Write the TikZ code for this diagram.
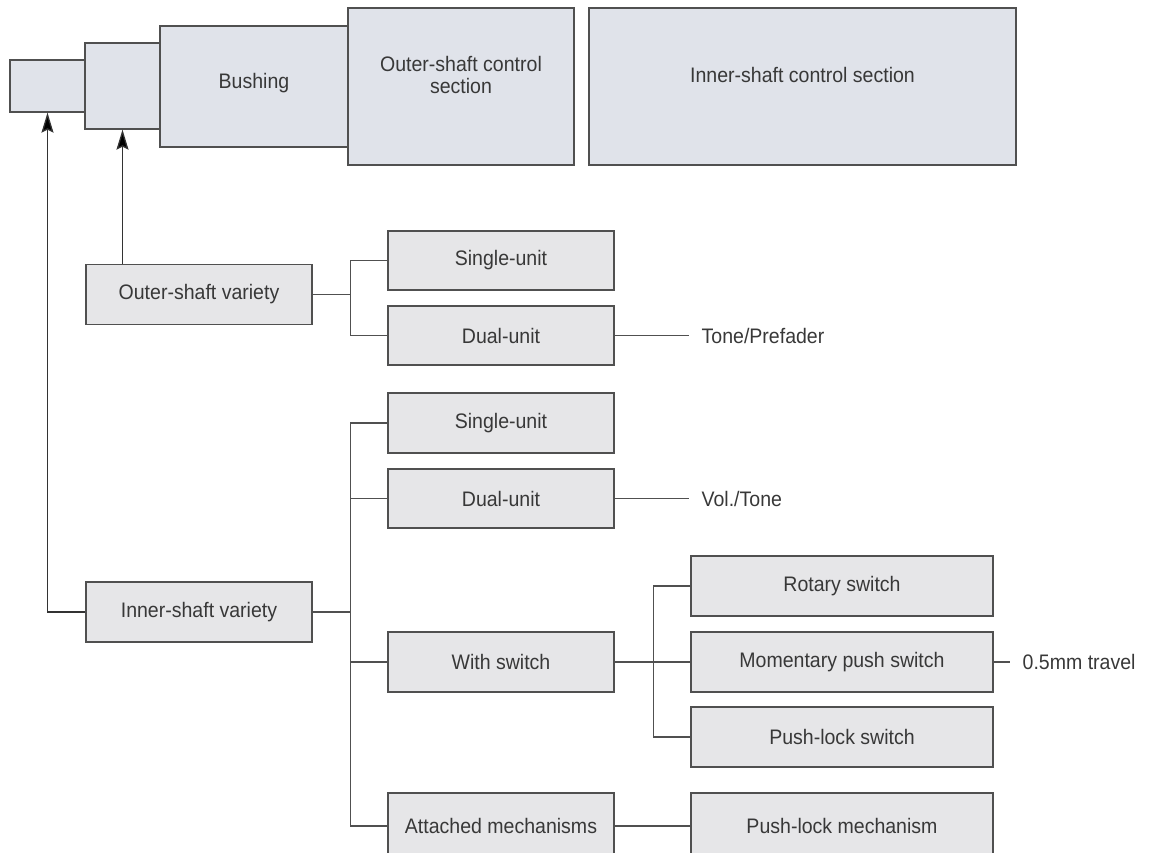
\documentclass[tikz,border=0pt]{standalone}
\usepackage{fontspec}
\setmainfont{Liberation Sans}[FakeStretch=0.93]
\usetikzlibrary{arrows.meta}

\definecolor{boxline}{HTML}{505050}
\definecolor{topfill}{HTML}{E0E3EA}
\definecolor{lowfill}{HTML}{E6E6E8}
\definecolor{textgray}{HTML}{383838}

\newcommand{\upby}[2]{\raisebox{#1}{\begin{tabular}{@{}c@{}}#2\end{tabular}}}

\begin{document}
\begin{tikzpicture}[x=1pt, y=-1pt, line width=1.3pt, color=boxline,
    every node/.style={font=\fontsize{21}{21}\selectfont, text=textgray},
    part/.style={draw=boxline, fill=topfill, inner sep=0pt},
    item/.style={draw=boxline, fill=lowfill, inner sep=0pt, minimum width=226pt, minimum height=60pt},
    wide/.style={item, minimum width=302pt},
    note/.style={inner xsep=12pt, inner ysep=0pt, anchor=west},
    arr/.style={-{Stealth[length=20pt, width=12pt, inset=3pt, fill=black]}, draw=black!80}]
  \useasboundingbox (0, 0) rectangle (1157, 853);

  % the control, seen from the side
  \node[part, minimum width=75pt, minimum height=52pt] (tip) at (47.5, 86) {};
  \node[part, minimum width=75pt, minimum height=86pt] (collar) at (122.5, 86) {};
  \node[part, minimum width=188pt, minimum height=121pt] (bush) at (254, 86.5) {\upby{11pt}{Bushing}};
  \node[part, minimum width=226pt, minimum height=157pt] (outctl) at (461, 86.5) {\upby{33pt}{Outer-shaft control\\section}};
  \node[part, minimum width=427pt, minimum height=157pt] (inctl) at (802.5, 86.5) {\upby{23pt}{Inner-shaft control section}};

  % outer shaft
  \node[item] (outvar) at (199, 294.5) {Outer-shaft variety};
  \node[item, minimum height=59pt] (osingle) at (501, 260.5) {Single-unit};
  \node[item, minimum height=59pt] (odual) at (501, 335.5) {Dual-unit};
  \node[note] (tonepre) at (689, 335.5) {Tone/Prefader};

  % inner shaft
  \node[item] (invar) at (199, 612) {Inner-shaft variety};
  \node[item] (isingle) at (501, 423) {Single-unit};
  \node[item, minimum height=59pt] (idual) at (501, 498.5) {Dual-unit};
  \node[note] (voltone) at (689, 498.5) {Vol./Tone};
  \node[item] (withsw) at (501, 662) {With switch};
  \node[item, minimum height=66pt] (attach) at (501, 826) {Attached mechanisms};

  \node[wide] (rotary) at (842, 586) {Rotary switch};
  \node[wide] (moment) at (842, 662) {Momentary push switch};
  \node[note] (travel) at (1010, 662) {0.5mm travel};
  \node[wide] (pushsw) at (842, 737) {Push-lock switch};
  \node[wide, minimum height=66pt] (pushmech) at (842, 826) {Push-lock mechanism};

  \draw[arr] (invar.west) -| (tip.south);
  \draw[arr] (outvar.north -| collar.south) -- (collar.south);

  \draw (outvar.east) -- ++(38, 0) coordinate (oj);
  \draw (osingle.west) -| (oj) |- (odual.west);
  \draw (invar.east) -- ++(38, 0) coordinate (ij);
  \foreach \n in {isingle, idual, withsw, attach} {
    \draw (ij) |- (\n.west);
  }
  \draw (withsw.east) -- ++(39, 0) coordinate (sj);
  \foreach \n in {rotary, moment, pushsw} {
    \draw (sj) |- (\n.west);
  }

  \draw (odual.east) -- (tonepre.west);
  \draw (idual.east) -- (voltone.west);
  \draw (moment.east) -- (travel.west);
  \draw (attach.east) -- (pushmech.west);
\end{tikzpicture}
\end{document}
